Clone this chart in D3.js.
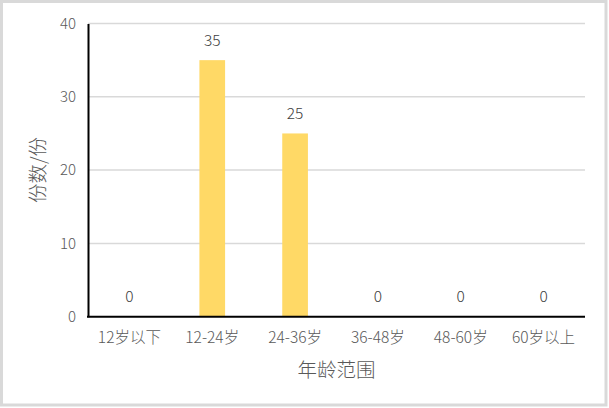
<!DOCTYPE html>
<html><head><meta charset="utf-8">
<script src="https://cdn.jsdelivr.net/npm/d3@7"></script>
<style>body{margin:0;background:#fff}svg{display:block}</style>
</head><body>
<script>
const categories = ["12岁以下","12-24岁","24-36岁","36-48岁","48-60岁","60岁以上"];
const values = [0,35,25,0,0,0];
const yTicks = [0,10,20,30,40];
const xTitle = "年龄范围";
const yTitle = "份数/份";

const W = 609, H = 408;
const svg = d3.select("body").append("svg").attr("width", W).attr("height", H);
svg.append("rect").attr("x",1.5).attr("y",1.5).attr("width",W-4.5).attr("height",H-4.5)
  .attr("fill","#fff").attr("stroke","#d9d9d9").attr("stroke-width",3);

const m = {left:88, right:585, top:23.5, bottom:316.7};
const x = d3.scaleBand().domain(categories).range([m.left, m.right]).paddingInner(0.69).paddingOuter(0.345);
const y = d3.scaleLinear().domain([0,40]).range([m.bottom, m.top]);
const font = "'Noto Sans CJK SC','Noto Sans',sans-serif";

// gridlines
svg.append("g").selectAll("line").data(yTicks.filter(d=>d>0)).join("line")
  .attr("x1", m.left).attr("x2", m.right)
  .attr("y1", d=>y(d)).attr("y2", d=>y(d))
  .attr("stroke","#d9d9d9").attr("stroke-width",1.5);

// bars
svg.append("g").selectAll("rect").data(values).join("rect")
  .attr("x",(d,i)=>x(categories[i])).attr("width",x.bandwidth())
  .attr("y",d=>y(d)).attr("height",d=>y(0)-y(d))
  .attr("fill","#ffd966");

// value labels
svg.append("g").selectAll("text").data(values).join("text")
  .attr("x",(d,i)=>x(categories[i])+x.bandwidth()/2)
  .attr("y",d=>y(d)-20).attr("dy","0.35em")
  .attr("text-anchor","middle").attr("font-family",font).attr("font-size",15.5).attr("font-weight",300)
  .attr("fill","#404040").text(d=>d);

// y axis
const yAxis = svg.append("g").attr("transform",`translate(${m.left},0)`)
  .call(d3.axisLeft(y).tickValues(yTicks).tickSize(0).tickPadding(12));
yAxis.select(".domain").attr("stroke","#000").attr("stroke-width",2);
yAxis.selectAll("text").attr("font-family",font).attr("font-size",15).attr("font-weight",300).attr("fill","#595959");

// x axis
const xAxis = svg.append("g").attr("transform",`translate(0,${m.bottom})`)
  .call(d3.axisBottom(x).tickSize(0).tickPadding(15));
xAxis.select(".domain").attr("stroke","#000").attr("stroke-width",2)
  .attr("d",`M${m.left-1},0H${m.right}`);
xAxis.selectAll("text").attr("font-family",font).attr("font-size",15.5).attr("font-weight",300).attr("fill","#595959");

// titles
svg.append("text").attr("x",(m.left+m.right)/2).attr("y",370).attr("dy","0.35em")
  .attr("text-anchor","middle").attr("font-family",font).attr("font-size",19.5).attr("font-weight",300)
  .attr("fill","#595959").text(xTitle);
svg.append("text").attr("transform",`translate(38,170) rotate(-90)`).attr("dy","0.35em")
  .attr("text-anchor","middle").attr("font-family",font).attr("font-size",19.5).attr("font-weight",300)
  .attr("fill","#595959").text(yTitle);
</script>
</body></html>
